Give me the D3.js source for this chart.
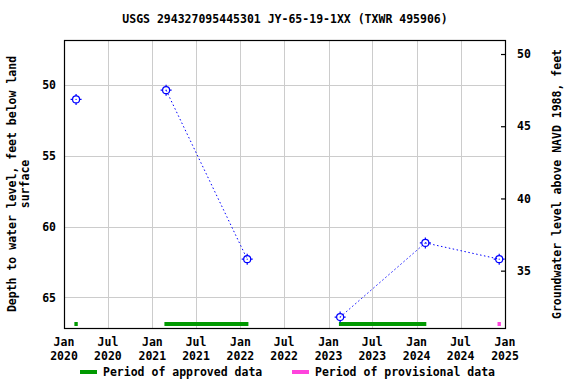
<!DOCTYPE html>
<html>
<head>
<meta charset="utf-8">
<script src="https://cdn.jsdelivr.net/npm/d3@7"></script>
<style>
  body { margin: 0; background: #fff; }
  text { font-family: "DejaVu Sans Mono", monospace; font-weight: bold; font-size: 11.5px; fill: #000; }
</style>
</head>
<body>
<svg id="chart" width="576" height="384"></svg>
<script>
// measurements (date, depth to water level in feet)
const dates = ["2020-02-20", "2021-02-27", "2022-01-29", "2023-02-18", "2024-02-06", "2024-12-08"];
const depths = [51.0, 50.35, 62.3, 66.4, 61.15, 62.3];
// indexes of measurements joined by a dotted line
const segments = [[1, 2], [3, 4], [4, 5]];
// periods of approved / provisional data
const approvedPeriods = [["2020-02-13", "2020-02-27"], ["2021-02-20", "2022-02-03"], ["2023-02-13", "2024-02-10"]];
const provisionalPeriods = [["2024-12-01", "2024-12-15"]];
const xTicks = ["2020-01-01", "2020-07-01", "2021-01-01", "2021-07-01", "2022-01-01", "2022-07-01",
  "2023-01-01", "2023-07-01", "2024-01-01", "2024-07-01", "2025-01-01"];
const leftTicks = [50, 55, 60, 65];
const rightTicks = [35, 40, 45, 50];

const title = "USGS 294327095445301 JY-65-19-1XX (TXWR 495906)";

const margin = { top: 40, right: 71, bottom: 56, left: 64 };
const width = 576, height = 384;
const parse = d3.timeParse("%Y-%m-%d");
const fmtMon = d3.timeFormat("%b"), fmtYr = d3.timeFormat("%Y");

const svg = d3.select("#chart");

const x = d3.scaleTime()
  .domain([parse("2020-01-01"), parse("2025-01-01")])
  .range([margin.left, width - margin.right]);
const y = d3.scaleLinear()
  .domain([46.8, 67.17])
  .range([margin.top, height - margin.bottom]);
const y2 = d3.scaleLinear()
  .domain([50.97, 31.03])
  .range([margin.top, height - margin.bottom]);

// grid
const grid = svg.append("g").attr("stroke", "#cccccc").attr("stroke-width", 1);
grid.selectAll(".vg").data(xTicks).join("line")
  .attr("x1", d => Math.round(x(parse(d))) + 0.5).attr("x2", d => Math.round(x(parse(d))) + 0.5)
  .attr("y1", margin.top).attr("y2", height - margin.bottom);
grid.selectAll(".hg").data(leftTicks).join("line")
  .attr("x1", margin.left).attr("x2", width - margin.right)
  .attr("y1", d => Math.round(y(d)) + 0.5).attr("y2", d => Math.round(y(d)) + 0.5);

// period bars
const barY = height - margin.bottom - 4;
svg.append("g").selectAll("rect").data(approvedPeriods).join("rect")
  .attr("x", d => x(parse(d[0]))).attr("width", d => x(parse(d[1])) - x(parse(d[0])))
  .attr("y", barY - 2).attr("height", 4).attr("fill", "#009900");
svg.append("g").selectAll("rect").data(provisionalPeriods).join("rect")
  .attr("x", d => x(parse(d[0]))).attr("width", d => x(parse(d[1])) - x(parse(d[0])))
  .attr("y", barY - 2).attr("height", 4).attr("fill", "#ff44dd");

// dotted lines
const line = d3.line().x(i => x(parse(dates[i]))).y(i => y(depths[i]));
svg.append("g").selectAll("path").data(segments).join("path")
  .attr("d", d => line(d))
  .attr("fill", "none").attr("stroke", "#0000ff").attr("stroke-width", 1)
  .attr("stroke-dasharray", "1.5,2.5");

// markers
const pts = svg.append("g").attr("stroke", "#0000ff").attr("fill", "none").attr("stroke-width", 1.2)
  .selectAll("g").data(dates).join("g")
  .attr("transform", (d, i) => `translate(${x(parse(d))},${y(depths[i])})`);
pts.append("circle").attr("r", 3.5);
pts.append("path").attr("d", "M0,-5.5V-3.5M0,3.5V5.5M-5.5,0H-3.5M3.5,0H5.5");
pts.append("circle").attr("r", 0.6).attr("fill", "#0000ff").attr("stroke", "none");

// frame
svg.append("rect")
  .attr("x", margin.left + 0.5).attr("y", margin.top + 0.5)
  .attr("width", width - margin.right - margin.left)
  .attr("height", height - margin.bottom - margin.top)
  .attr("fill", "none").attr("stroke", "#000").attr("stroke-width", 1.2);

// left axis
const yAxis = svg.append("g").attr("transform", `translate(${margin.left},0)`)
  .call(d3.axisLeft(y).tickValues(leftTicks).tickSize(0).tickPadding(8));
yAxis.select(".domain").remove();
yAxis.selectAll("text").style("font-size", "11.5px");

// right axis
const y2Axis = svg.append("g").attr("transform", `translate(${width - margin.right},0)`)
  .call(d3.axisRight(y2).tickValues(rightTicks).tickSizeInner(-4).tickSizeOuter(0).tickPadding(12));
y2Axis.select(".domain").remove();
y2Axis.selectAll("line").attr("stroke-width", 1.2);
y2Axis.selectAll("text").style("font-size", "11.5px");

// bottom axis labels
const xl = svg.append("g").selectAll("text").data(xTicks).join("text")
  .attr("text-anchor", "middle")
  .attr("x", d => x(parse(d)));
xl.append("tspan").attr("x", d => x(parse(d))).attr("y", 346).text(d => fmtMon(parse(d)));
xl.append("tspan").attr("x", d => x(parse(d))).attr("y", 360).text(d => fmtYr(parse(d)));

// title
svg.append("text").attr("x", 285).attr("y", 23).attr("text-anchor", "middle").text(title);

// axis titles
const cy = (margin.top + height - margin.bottom) / 2;
svg.append("text").attr("transform", `translate(16,${cy}) rotate(-90)`)
  .attr("text-anchor", "middle").text("Depth to water level, feet below land");
svg.append("text").attr("transform", `translate(29,${cy}) rotate(-90)`)
  .attr("text-anchor", "middle").text("surface");
svg.append("text").attr("transform", `translate(561,${cy}) rotate(-90)`)
  .attr("text-anchor", "middle").text("Groundwater level above NAVD 1988, feet");

// legend
const legend = [
  { label: "Period of approved data", color: "#009900", x: 80 },
  { label: "Period of provisional data", color: "#ff44dd", x: 292 }
];
const lg = svg.append("g").selectAll("g").data(legend).join("g")
  .attr("transform", d => `translate(${d.x},373)`);
lg.append("line").attr("x1", 0).attr("x2", 17).attr("y1", -1).attr("y2", -1)
  .attr("stroke", d => d.color).attr("stroke-width", 4);
lg.append("text").attr("x", 23).attr("y", 3).text(d => d.label);
</script>
</body>
</html>
